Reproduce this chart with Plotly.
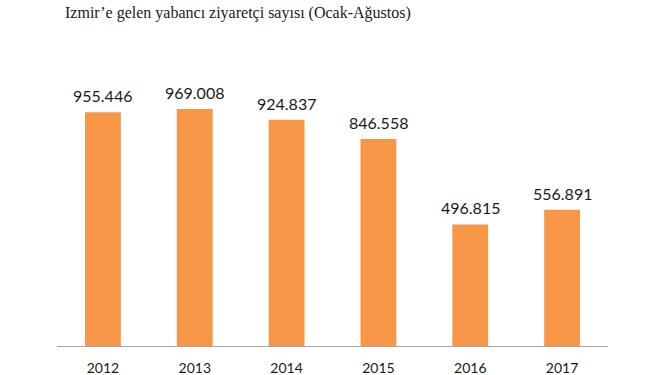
import plotly.graph_objects as go

years = ["2012", "2013", "2014", "2015", "2016", "2017"]
visitors = [955446, 969008, 924837, 846558, 496815, 556891]
title_text = "Izmir’e gelen yabancı ziyaretçi sayısı (Ocak-Ağustos)"

labels = [f"{v:,}".replace(",", ".") for v in visitors]

fig = go.Figure()
fig.add_trace(go.Bar(
    x=years, y=visitors,
    marker=dict(color="#F79646", line=dict(width=0)),
    hoverinfo="x+y",
))
for i, (y, t) in enumerate(zip(visitors, labels)):
    fig.add_annotation(x=i, y=y, text=t, showarrow=False, yanchor="bottom",
                       yshift=5, font=dict(family="Lato, Open Sans, sans-serif", size=16, color="#1a1a1a"))

fig.update_layout(
    width=670, height=375,
    margin=dict(l=57, r=62, t=60, b=29),
    paper_bgcolor="white", plot_bgcolor="white",
    bargap=0.61,
    showlegend=False,
    title=dict(text=title_text, x=65/670, xanchor="left", y=1 - 12/375, yanchor="middle",
               font=dict(family="Liberation Serif, DejaVu Serif, serif", size=16, color="#1a1a1a")),
)
fig.update_xaxes(type="category", range=[-0.5, len(years) - 0.5], showline=True,
                 linecolor="#A6A6A6", linewidth=1, ticks="", showgrid=False, automargin=False,
                 tickfont=dict(family="Lato, Open Sans, sans-serif", size=14, color="#1a1a1a"),
                 ticklabelstandoff=9)
fig.update_yaxes(range=[0, 1169000], visible=False, showgrid=False, zeroline=False, automargin=False)

fig.write_html("out.html")
